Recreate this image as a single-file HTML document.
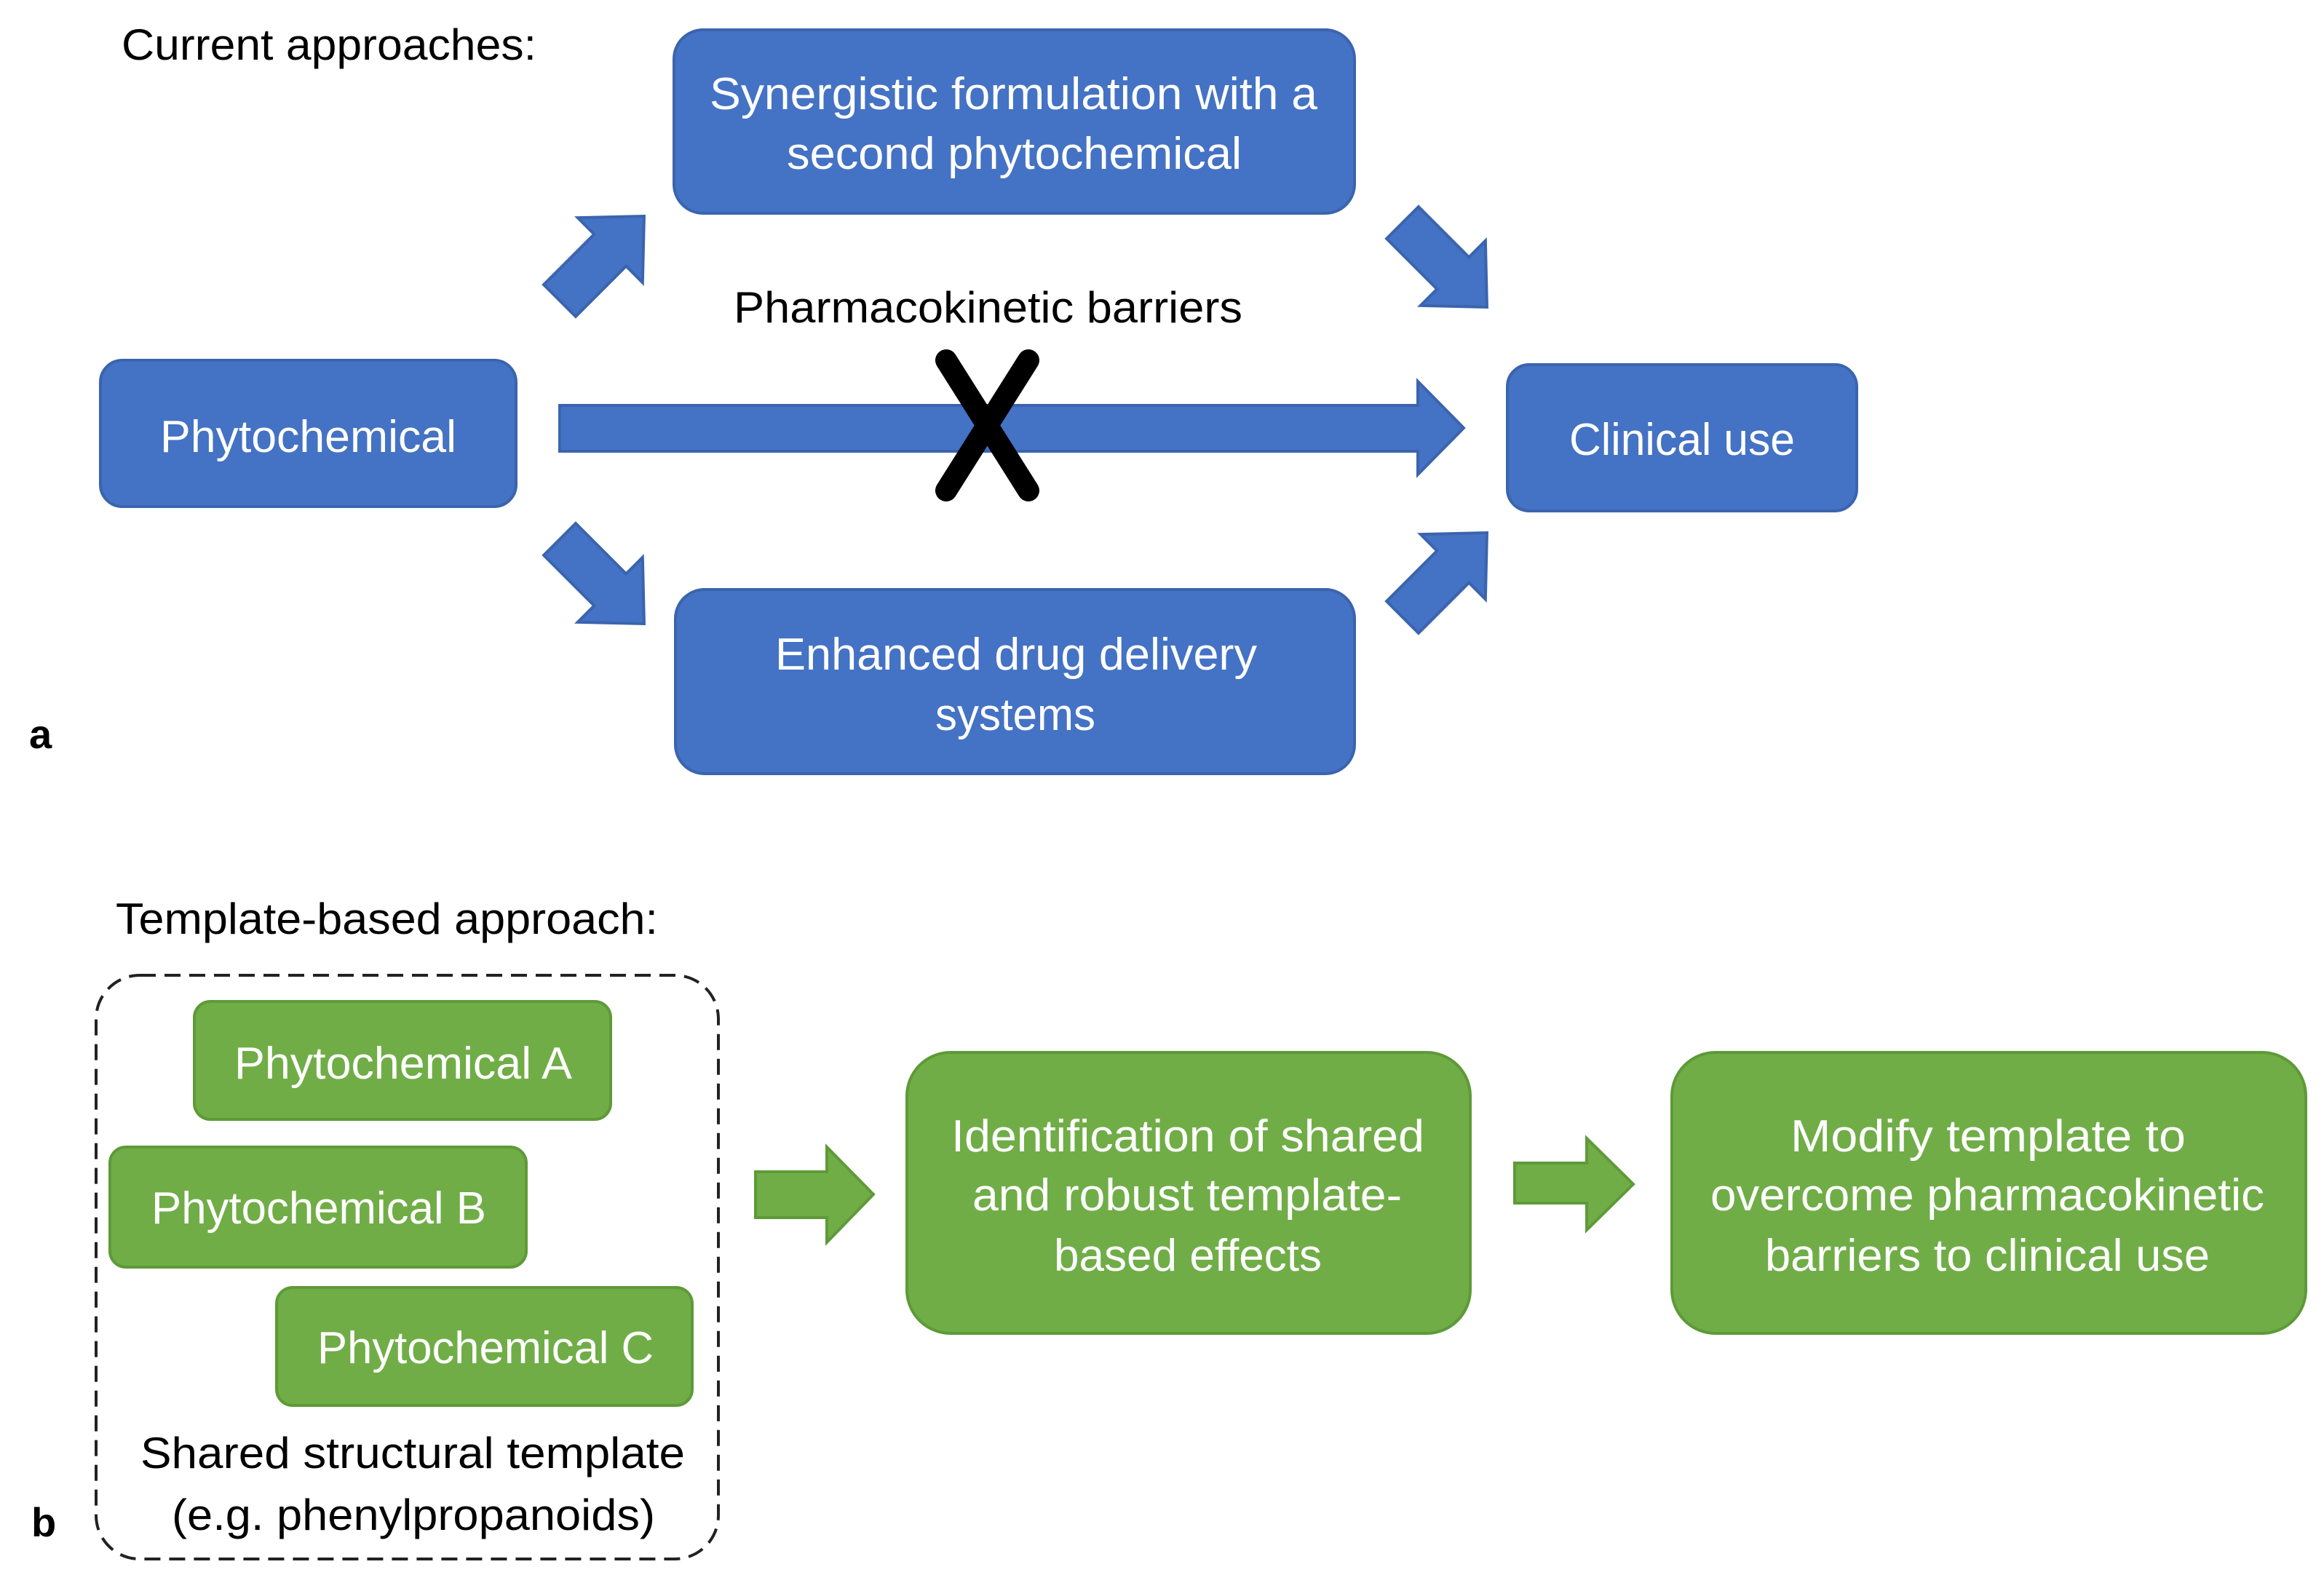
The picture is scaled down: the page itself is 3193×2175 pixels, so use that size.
<!DOCTYPE html>
<html><head><meta charset="utf-8"><style>html,body{margin:0;padding:0;background:#fff}svg{display:block}</style></head>
<body>
<svg width="3193" height="2175" viewBox="0 0 3193 2175" xmlns="http://www.w3.org/2000/svg" font-family="Liberation Sans, sans-serif">
<defs>
<polygon id="ar" points="0,-31 98,-31 98,-63 164,0 98,63 98,31 0,31"/>
</defs>
<g fill="#4472C4" stroke="#3B64AE" stroke-width="4">
<rect x="926" y="41" width="935" height="252" rx="40"/>
<rect x="138" y="495" width="571" height="201" rx="30"/>
<rect x="2071" y="501" width="480" height="201" rx="30"/>
<rect x="928" y="810" width="933" height="253" rx="40"/>
<polygon points="769,557 1948,557 1948,524 2011,588 1948,652 1948,620 769,620"/>
<use href="#ar" transform="translate(769,413) rotate(-45)"/>
<use href="#ar" transform="translate(1927,306) rotate(45)"/>
<use href="#ar" transform="translate(769,741) rotate(45)"/>
<use href="#ar" transform="translate(1927,848) rotate(-45)"/>
</g>
<g stroke="#000" stroke-width="30" stroke-linecap="round" fill="none">
<line x1="1300" y1="495" x2="1413" y2="674"/>
<line x1="1413" y1="495" x2="1300" y2="674"/>
</g>
<g fill="#70AD47" stroke="#5E9A38" stroke-width="4">
<rect x="267" y="1376" width="572" height="162" rx="22"/>
<rect x="151" y="1576" width="572" height="165" rx="22"/>
<rect x="380" y="1769" width="571" height="162" rx="22"/>
<rect x="1246" y="1446" width="774" height="386" rx="60"/>
<rect x="2297" y="1446" width="871" height="386" rx="60"/>
<polygon points="1038,1610 1136,1610 1136,1576 1200,1641 1136,1707 1136,1673 1038,1673"/>
<polygon points="2081,1598 2180,1598 2180,1564 2244,1627 2180,1690 2180,1653 2081,1653"/>
</g>
<rect x="132" y="1340" width="855" height="802" rx="60" fill="none" stroke="#222" stroke-width="4" stroke-dasharray="22,12"/>
<g font-size="60" lengthAdjust="spacingAndGlyphs">
<text x="167" y="82" textLength="570" lengthAdjust="spacingAndGlyphs">Current approaches:</text>
<text x="1008" y="443" textLength="699" lengthAdjust="spacingAndGlyphs">Pharmacokinetic barriers</text>
<text x="159" y="1283" textLength="745" lengthAdjust="spacingAndGlyphs">Template-based approach:</text>
<text x="193" y="2017" textLength="748" lengthAdjust="spacingAndGlyphs">Shared structural template</text>
<text x="236" y="2102" textLength="664" lengthAdjust="spacingAndGlyphs">(e.g. phenylpropanoids)</text>
<text x="40" y="1028" font-weight="bold" font-size="56">a</text>
<text x="43" y="2111" font-weight="bold" font-size="56">b</text>
</g>
<g font-size="62" fill="#fff">
<text x="975" y="150" textLength="835" lengthAdjust="spacingAndGlyphs">Synergistic formulation with a</text>
<text x="1081" y="232" textLength="625" lengthAdjust="spacingAndGlyphs">second phytochemical</text>
<text x="220" y="621" textLength="407" lengthAdjust="spacingAndGlyphs">Phytochemical</text>
<text x="2156" y="625" textLength="310" lengthAdjust="spacingAndGlyphs">Clinical use</text>
<text x="1065" y="920" textLength="662" lengthAdjust="spacingAndGlyphs">Enhanced drug delivery</text>
<text x="1285" y="1003" textLength="220" lengthAdjust="spacingAndGlyphs">systems</text>
<text x="322" y="1482" textLength="464" lengthAdjust="spacingAndGlyphs">Phytochemical A</text>
<text x="208" y="1681" textLength="460" lengthAdjust="spacingAndGlyphs">Phytochemical B</text>
<text x="436" y="1873" textLength="462" lengthAdjust="spacingAndGlyphs">Phytochemical C</text>
<text x="1307" y="1582" textLength="650" lengthAdjust="spacingAndGlyphs">Identification of shared</text>
<text x="1336" y="1663" textLength="590" lengthAdjust="spacingAndGlyphs">and robust template-</text>
<text x="1448" y="1746" textLength="368" lengthAdjust="spacingAndGlyphs">based effects</text>
<text x="2460" y="1582" textLength="543" lengthAdjust="spacingAndGlyphs">Modify template to</text>
<text x="2350" y="1663" textLength="761" lengthAdjust="spacingAndGlyphs">overcome pharmacokinetic</text>
<text x="2425" y="1746" textLength="611" lengthAdjust="spacingAndGlyphs">barriers to clinical use</text>
</g>
</svg>
</body></html>
